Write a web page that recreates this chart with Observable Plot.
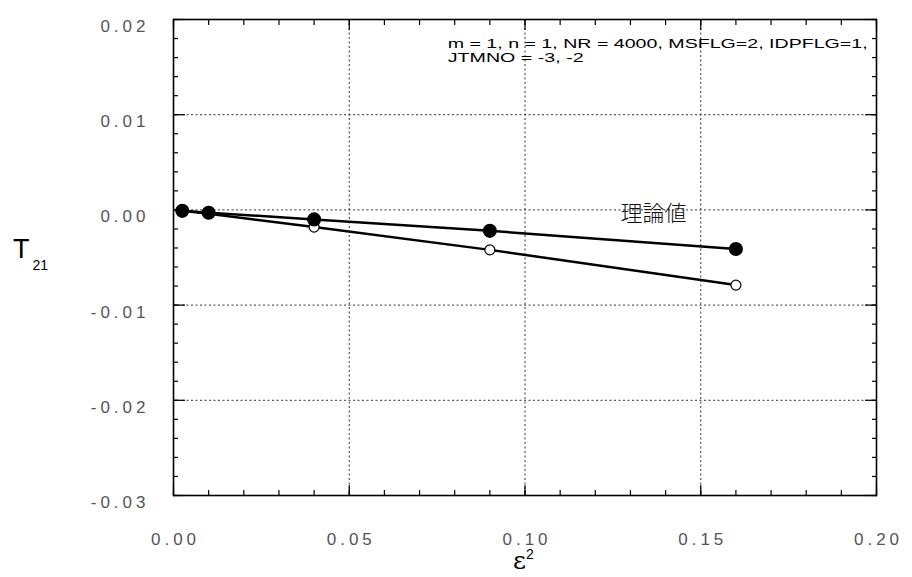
<!DOCTYPE html>
<html>
<head>
<meta charset="utf-8">
<script src="https://cdn.jsdelivr.net/npm/d3@7"></script>
<script src="https://cdn.jsdelivr.net/npm/@observablehq/plot@0.6"></script>
<style>
  html, body { margin: 0; padding: 0; background: #fff; }
  #chart svg { display: block; }
</style>
</head>
<body>
<div id="chart"></div>
<script>
// ε² values at which T21 was evaluated
const epsSq = [0.0025, 0.01, 0.04, 0.09, 0.16];
// theoretical T21 (filled markers)
const theoryT21 = [-0.0001, -0.0003, -0.0010, -0.0022, -0.0041];
// computed T21 (open markers)
const computedT21 = [-0.0001, -0.0004, -0.0018, -0.0042, -0.0079];

const xTicks = [0, 0.05, 0.10, 0.15, 0.20];
const xTickLabels = ["0.00", "0.05", "0.10", "0.15", "0.20"];
const yTicks = [0.02, 0.01, 0, -0.01, -0.02, -0.03];
const yTickLabels = ["0.02", "0.01", "0.00", "-0.01", "-0.02", "-0.03"];
const xGrid = [0.05, 0.10, 0.15];
const yGrid = [0.01, 0, -0.01, -0.02];
const paramLines = ["m = 1, n = 1, NR = 4000, MSFLG=2, IDPFLG=1,", "JTMNO = -3, -2"];
const curveLabel = "理論値";

const theory = epsSq.map((e, i) => ({e, t: theoryT21[i]}));
const computed = epsSq.map((e, i) => ({e, t: computedT21[i]}));

// minor tick positions along the frame
const xMinor = d3.range(0, 21).map(i => i / 100);
const yMinor = d3.range(-15, 11).map(i => i / 500);

const grid = {stroke: "#000", strokeOpacity: 0.8, strokeWidth: 1, strokeDasharray: "2,2.5"};
const tickOnly = {fill: "none", label: null, stroke: "#000", strokeWidth: 1.2};

const plot = Plot.plot({
  width: 912,
  height: 577,
  marginLeft: 173,
  marginRight: 36,
  marginTop: 19,
  marginBottom: 82,
  x: {domain: [0, 0.2]},
  y: {domain: [-0.03, 0.02]},
  style: {background: "#fff", color: "#000", fontFamily: "'Liberation Sans', Arial, sans-serif"},
  marks: [
    Plot.gridX(xGrid, grid),
    Plot.gridY(yGrid, grid),
    // inward ticks on all four sides
    Plot.axisY(yMinor, {anchor: "left", tickSize: -5, ...tickOnly}),
    Plot.axisY(yMinor, {anchor: "right", tickSize: -5, ...tickOnly}),
    Plot.axisY(yTicks, {anchor: "left", tickSize: -12, ...tickOnly}),
    Plot.axisY(yTicks, {anchor: "right", tickSize: -12, ...tickOnly}),
    Plot.axisX(xMinor, {anchor: "bottom", tickSize: -5, ...tickOnly}),
    Plot.axisX(xMinor, {anchor: "top", tickSize: -5, ...tickOnly}),
    Plot.axisX(xTicks, {anchor: "bottom", tickSize: -10, ...tickOnly}),
    Plot.axisX(xTicks, {anchor: "top", tickSize: -10, ...tickOnly}),
    // tick labels
    Plot.axisY(yTicks, {
      anchor: "left", tickSize: 0, tickPadding: 24, dy: 7, label: null,
      tickFormat: d => yTickLabels[yTicks.indexOf(d)],
      fontSize: 17, fill: "#555"
    }),
    Plot.axisX(xTicks, {
      anchor: "bottom", tickSize: 0, tickPadding: 37, dx: 2, label: null,
      tickFormat: d => xTickLabels[xTicks.indexOf(d)],
      fontSize: 17, fill: "#555"
    }),
    Plot.frame({stroke: "#000", strokeWidth: 1.6}),
    // curves
    Plot.line(computed, {x: "e", y: "t", stroke: "#000", strokeWidth: 2.5}),
    Plot.line(theory, {x: "e", y: "t", stroke: "#000", strokeWidth: 2.5}),
    Plot.dot(computed, {x: "e", y: "t", r: 5, fill: "#fff", stroke: "#000", strokeWidth: 1.2}),
    Plot.dot(theory, {x: "e", y: "t", r: 6.3, fill: "#000", stroke: "#000"}),
    // annotations
    Plot.text([curveLabel], {
      x: 0.1272, y: -0.0004, text: d => d, textAnchor: "start",
      fontFamily: "'Noto Sans CJK JP', sans-serif", fontSize: 22, fontWeight: 300, fill: "#111"
    }),
    Plot.text([paramLines[0]], {
      x: 0.078, y: 0.0170, text: d => d, textAnchor: "start", lineAnchor: "bottom",
      fontSize: 13, fill: "#000"
    }),
    Plot.text([paramLines[1]], {
      x: 0.078, y: 0.0170, dy: 14, text: d => d, textAnchor: "start", lineAnchor: "bottom",
      fontSize: 13, fill: "#000"
    })
  ]
});

const svg = d3.select(plot);
svg.selectAll('g[aria-label="y-axis tick label"] text').style("letter-spacing", "4px");
svg.selectAll('g[aria-label="x-axis tick label"] text').style("letter-spacing", "4px");
// widen the parameter lines
const paramWidths = [420, 136];
svg.selectAll("text").each(function () {
  const k = paramLines.indexOf(this.textContent);
  if (k >= 0) {
    this.setAttribute("textLength", paramWidths[k]);
    this.setAttribute("lengthAdjust", "spacingAndGlyphs");
  }
});

// axis titles: T21 and ε²
const yTitle = svg.append("text")
  .attr("x", 13).attr("y", 258)
  .attr("text-anchor", "start")
  .attr("font-family", "'Liberation Sans', Arial, sans-serif")
  .attr("font-size", 27).attr("fill", "#000");
yTitle.append("tspan").text("T");
yTitle.append("tspan").attr("dx", 3).attr("dy", 12).attr("font-size", 14).text("21");

const xTitle = svg.append("text")
  .attr("x", 513).attr("y", 569)
  .attr("text-anchor", "start")
  .attr("font-family", "'DejaVu Serif', serif")
  .attr("font-size", 25).attr("fill", "#000");
xTitle.append("tspan").text("ε");
xTitle.append("tspan").attr("dy", -10).attr("font-size", 14).attr("font-family", "'Liberation Sans', sans-serif").text("2");

document.getElementById("chart").appendChild(plot);
</script>
</body>
</html>
